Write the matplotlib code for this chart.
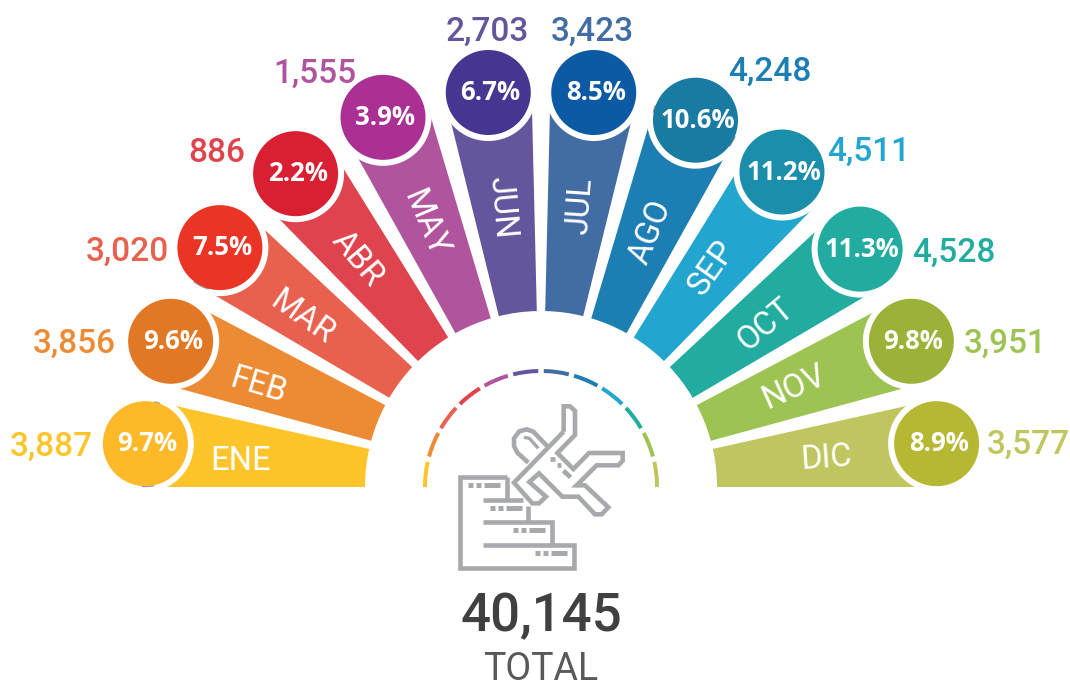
import numpy as np
import matplotlib
matplotlib.use("Agg")
import matplotlib.pyplot as plt
from matplotlib.patches import Wedge, Circle

months = ["ENE","FEB","MAR","ABR","MAY","JUN","JUL","AGO","SEP","OCT","NOV","DIC"]
values = [3887,3856,3020,886,1555,2703,3423,4248,4511,4528,3951,3577]
shares = [9.7,9.6,7.5,2.2,3.9,6.7,8.5,10.6,11.2,11.3,9.8,8.9]
total = 40145
wedge_colors = ["#FEC52B","#EC8B33","#E8604E","#DF444E","#B0549E","#64559C",
                "#416CA4","#1C7EB3","#22A5CF","#22AC9F","#9DC352","#C0C65F"]
circle_colors = ["#FDB927","#E17826","#EA3426","#D91F32","#AA3193","#483591",
                 "#0C5AA4","#197BA2","#1A8EAB","#22AC9F","#9BB238","#B6B834"]
value_colors = ["#FEC52B","#EC8B33","#E8604E","#DF444E","#B0549E","#64559C",
                "#416CA4","#1C7EB3","#22A5CF","#22AC9F","#9DC352","#C0C65F"]

# layout (pixel units)
CX, CY = 541, 487
R_IN, R_OUT, R_BALL, R_RING = 176, 398, 42.5, 48.5
circ_r = [398,398,400.5,398,402,398,398,398,396.6,398,398,398]
circ_da = [0,0,0,0,-0.3,0,0,0,-0.65,0,0,0]
PITCH, SPAN = 167.5/11, 12.5
label_xy = [(241,458),(259,382),(304,315),(360,257),(428,222),(505,207),
            (577,206),(647,231),(709,266),(763,322),(793,384),(826,455)]
label_rot = [0,-17,-35,-50,-67,-85,86,68,55,40,24,4]
val_off = [(-94,3),(-96.5,3),(-92.5,4),(-79,-21),(-68.5,-44),(-1,-61),(-1,-61),
           (74,-48),(87,-20),(94,4),(94,3),(92,1)]
slivers = [(0,78,95),(0,-78,-70),(2,105,128),(7,190,200),(7,22,38)]

fig = plt.figure(figsize=(10.7,6.84), dpi=100, facecolor="white")
ax = fig.add_axes([0,0,1,1])
ax.set_xlim(0,1070); ax.set_ylim(684,0); ax.axis("off")

def ball_center(i):
    mid = np.deg2rad(180 + i*PITCH + SPAN/2 + circ_da[i])
    return CX + circ_r[i]*np.cos(mid), CY + circ_r[i]*np.sin(mid)

for i, m in enumerate(months):
    a0 = 180 + i*PITCH
    a1 = a0 + SPAN
    ax.add_patch(Wedge((CX,CY), R_OUT, a0, a1, width=R_OUT-R_IN, fc=wedge_colors[i], ec="none", zorder=1))
    ax.add_patch(Wedge((CX,CY), 118, a0, a1, width=4, fc=wedge_colors[i], ec="none", zorder=1))
for i, m in enumerate(months):
    x, y = ball_center(i)
    ax.add_patch(Circle((x,y), R_RING, fc="white", ec="none", zorder=2))
    ax.add_patch(Circle((x,y), R_BALL, fc=circle_colors[i], ec="none", zorder=3))
    ax.text(x+2, y, f"{shares[i]:.1f}%", color="white", family="Open Sans", weight="bold",
            fontsize=18.5, ha="center", va="center", zorder=4)
    ax.text(*label_xy[i], m, color="white", family="Roboto", weight="normal",
            fontsize=23.5, rotation=label_rot[i], rotation_mode="anchor", ha="center",
            va="center_baseline", zorder=4)
    ax.text(x+val_off[i][0], y+val_off[i][1], f"{values[i]:,}", color=value_colors[i], family="Roboto",
            weight="medium", fontsize=24, ha="center", va="center", zorder=4)
for i, t0, t1 in slivers:
    ax.add_patch(Wedge(ball_center(i), R_BALL+1, t0, t1, fc="#9A9A9A", ec="none", zorder=2.5))

ax.text(541, 617, f"{total:,}", color="#404041", family="Roboto", weight="medium", fontsize=38, ha="center", va="center")
ax.text(540.5, 666, "TOTAL", color="#58595B", family="Roboto", weight="normal", fontsize=27, ha="center", va="center_baseline")

# icon, traced in a local grid of thirds of a pixel
ICON = "#A7A9AC"
def stroke(pts, lw=3.3, **kw):
    p = np.array(pts, float)
    ax.plot(400+p[:,0]/3, 360+p[:,1]/3, color=ICON, lw=lw, solid_joinstyle="miter",
            solid_capstyle="butt", zorder=2, **kw)

stroke([(320,350),(181,350),(181,625),(522,625),(522,555),(250,555)])
stroke([(455,555),(455,487),(250,487)])
stroke([(385,487),(385,437)])
stroke([(250,420),(368,420)])
stroke([(320,350),(320,420)])
for xs, yy in [((205,228,252),376),((270,295,318),445),((339,363,388),511),((405,430,453),580)]:
    stroke([(xs[0],yy),(xs[0]+14,yy)], lw=3.6)
    stroke([(xs[1],yy),(xs[1]+14,yy)], lw=3.6)
    stroke([(xs[2],yy),(xs[2]+48,yy)], lw=3.6)
stroke([(491,215),(491,139),(510,139),(525,153),(525,225),(472,279),(520,327),(567,279),(668,279),
        (668,302),(655,316),(590,316),(530,376),(555,376),(625,442),(605,463),(585,463),(535,410),
        (487,410),(417,340),(388,366),(438,410),(417,430),(397,430),(342,368),(491,215)])
stroke([(445,262),(400,215),(380,208),(358,214),(342,235),(342,258),(352,278),(385,308)])
stroke([(372,232),(388,235),(415,265)], lw=2.4)
stroke([(451,298),(465,298)], lw=3.4)
stroke([(470,315),(483,315)], lw=3.4)
stroke([(490,332),(512,352)], lw=3.4)

fig.savefig("out.png", dpi=100, facecolor="white")
